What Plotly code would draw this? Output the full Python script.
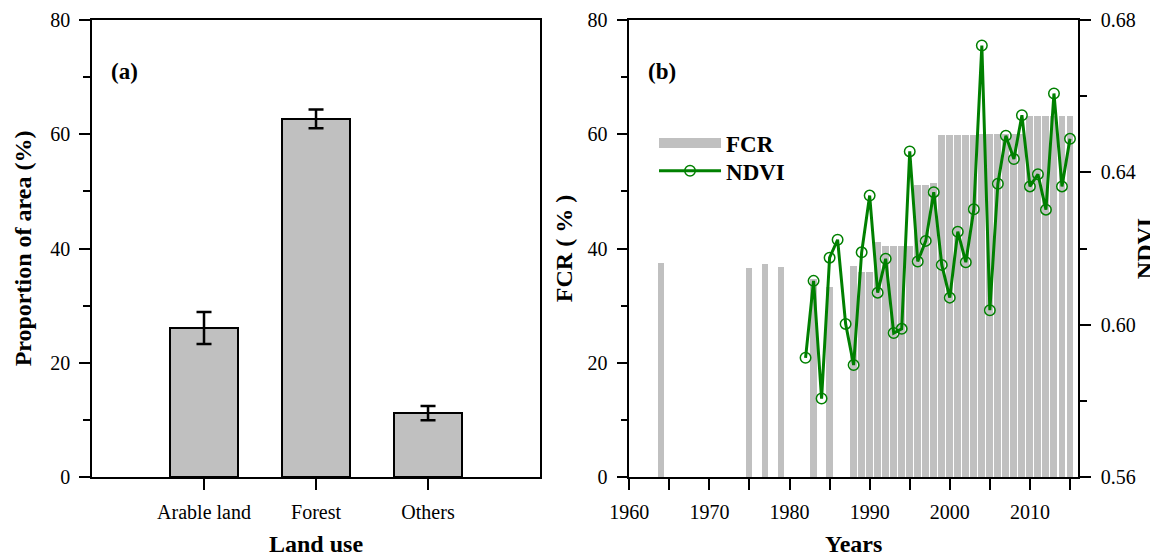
import plotly.graph_objects as go

# ---------------- data ----------------
categories = ["Arable land", "Forest", "Others"]
area_pct = [26.1, 62.7, 11.2]
area_err = [2.8, 1.65, 1.25]

fcr_years = [1964, 1975, 1977, 1979, 1983, 1985, 1988, 1989, 1990, 1991, 1992,
             1993, 1994, 1995, 1996, 1997, 1998, 1999, 2000, 2001, 2002, 2003,
             2004, 2005, 2006, 2007, 2008, 2009, 2010, 2011, 2012, 2013, 2014, 2015]
fcr_vals = [37.4, 36.6, 37.3, 36.7, 34.7, 33.2, 37.0, 35.9, 35.9, 41.1, 40.4,
            40.4, 40.4, 40.4, 51.1, 51.1, 51.4, 59.8, 59.8, 59.8, 59.8, 59.8,
            60.1, 60.1, 60.1, 60.1, 60.1, 60.1, 63.2, 63.2, 63.2, 63.2, 63.2, 63.2]

ndvi_years = [1982, 1983, 1984, 1985, 1986, 1987, 1988, 1989, 1990, 1991, 1992,
              1993, 1994, 1995, 1996, 1997, 1998, 1999, 2000, 2001, 2002, 2003,
              2004, 2005, 2006, 2007, 2008, 2009, 2010, 2011, 2012, 2013, 2014, 2015]
ndvi_vals = [0.5913, 0.6115, 0.5806, 0.6176, 0.6223, 0.6002, 0.5894, 0.6190,
             0.6339, 0.6084, 0.6173, 0.5978, 0.5989, 0.6455, 0.6166, 0.6220,
             0.6348, 0.6157, 0.6071, 0.6244, 0.6164, 0.6303, 0.6733, 0.6038,
             0.6370, 0.6496, 0.6435, 0.6550, 0.6363, 0.6395, 0.6302, 0.6607,
             0.6363, 0.6488]

year_ticks = [1960, 1970, 1980, 1990, 2000, 2010]
year_ticktext = ["1960", "1970", "1980", "1990", "2000", "2010"]
ndvi_ticks = [0.56, 0.60, 0.64, 0.68]
ndvi_ticktext = ["0.56", "0.60", "0.64", "0.68"]

# ---------------- style ----------------
FONT = "Liberation Serif, Times New Roman, serif"
GREY = "#c0c0c0"
GREEN = "#008000"
TICKFONT = dict(family=FONT, size=20, color="black")
TITLEFONT = dict(family=FONT, size=24, color="black", weight="bold")
LEGFONT = dict(family=FONT, size=23, color="black", weight="bold")

fig = go.Figure()

# panel (a)
fig.add_trace(go.Bar(
    x=categories, y=area_pct, width=0.6,
    marker=dict(color=GREY, line=dict(color="black", width=2)),
    error_y=dict(type="data", array=area_err, color="black", thickness=2.5, width=7.5),
    xaxis="x", yaxis="y", showlegend=False,
))

# panel (b)
fig.add_trace(go.Bar(
    x=fcr_years, y=fcr_vals, width=0.8,
    marker=dict(color=GREY, line=dict(width=0)),
    xaxis="x2", yaxis="y2", showlegend=False, name="FCR",
))
# legend entry for FCR (wide grey patch)
fig.add_trace(go.Scatter(
    x=[None], y=[None], mode="lines", name="FCR",
    line=dict(color=GREY, width=14),
    xaxis="x2", yaxis="y2", showlegend=True, legend="legend",
))
fig.add_trace(go.Scatter(
    x=ndvi_years, y=ndvi_vals, mode="lines+markers", name="NDVI",
    line=dict(color=GREEN, width=3),
    marker=dict(symbol="circle-open", size=10.5, color=GREEN, line=dict(width=1.5, color=GREEN)),
    xaxis="x2", yaxis="y3", legend="legend2",
))

axis_common = dict(
    showline=True, linecolor="black", linewidth=1.5, showgrid=False, zeroline=False,
    ticks="outside", tickcolor="black", tickwidth=1.5, ticklen=11,
    tickfont=TICKFONT, automargin=False,
)

legend_common = dict(
    x=0.570, xanchor="left", yanchor="middle",
    bgcolor="rgba(0,0,0,0)", borderwidth=0,
    font=LEGFONT, itemwidth=62,
)

# The page body adds an 8px offset, so the figure is 8px smaller than the window.
fig.update_layout(
    width=1150, height=549,
    template="none",
    paper_bgcolor="white", plot_bgcolor="white",
    margin=dict(l=84, r=80, t=12, b=80),
    font=dict(family=FONT, color="black"),
    bargap=0,
    xaxis=dict(
        domain=[0, 0.4544], type="category", range=[-1, 3], mirror=True,
        title=dict(text="Land use", font=TITLEFONT, standoff=14),
        ticklabelstandoff=5,
        anchor="y",
        **axis_common,
    ),
    yaxis=dict(
        domain=[0, 1], range=[0, 80], tick0=0, dtick=20, mirror=True,
        minor=dict(dtick=10, ticks="outside", ticklen=7, tickcolor="black", tickwidth=1.5),
        title=dict(text="Proportion of area (%)", font=TITLEFONT, standoff=12),
        ticklabelstandoff=5,
        anchor="x",
        **axis_common,
    ),
    xaxis2=dict(
        domain=[0.5449, 1.0], range=[1960, 2016], mirror=True,
        tickvals=year_ticks, ticktext=year_ticktext,
        minor=dict(dtick=5, tick0=1960, ticks="outside", ticklen=11, tickcolor="black", tickwidth=1.5),
        title=dict(text="Years", font=TITLEFONT, standoff=14),
        ticklabelstandoff=5,
        anchor="y2",
        **axis_common,
    ),
    yaxis2=dict(
        domain=[0, 1], range=[0, 80], tick0=0, dtick=20,
        minor=dict(dtick=10, ticks="outside", ticklen=7, tickcolor="black", tickwidth=1.5),
        title=dict(text="FCR ( % )", font=TITLEFONT, standoff=8),
        ticklabelstandoff=5,
        anchor="x2",
        **axis_common,
    ),
    yaxis3=dict(
        overlaying="y2", side="right", anchor="x2",
        range=[0.56, 0.68], tickvals=ndvi_ticks, ticktext=ndvi_ticktext,
        minor=dict(dtick=0.02, tick0=0.56, ticks="outside", ticklen=7, tickcolor="black", tickwidth=1.5),
        title=dict(text="NDVI", font=TITLEFONT, standoff=4),
        ticklabelstandoff=6,
        **axis_common,
    ),
    legend=dict(y=0.731, **legend_common),
    legend2=dict(y=0.670, **legend_common),
    annotations=[
        dict(text="<b>(a)</b>", xref="x domain", yref="y domain", x=0.038, y=0.887,
             xanchor="left", yanchor="middle", showarrow=False,
             font=dict(family=FONT, size=23, color="black")),
        dict(text="<b>(b)</b>", xref="x2 domain", yref="y2 domain", x=0.037, y=0.887,
             xanchor="left", yanchor="middle", showarrow=False,
             font=dict(family=FONT, size=23, color="black")),
    ],
)

fig.write_html("out.html")
